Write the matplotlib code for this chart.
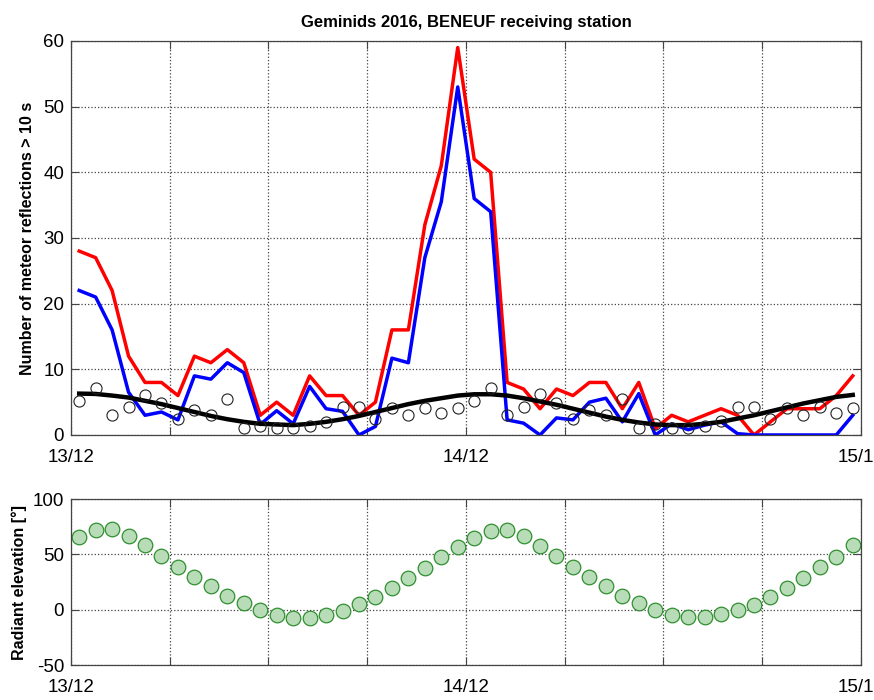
import numpy as np
import matplotlib
matplotlib.use('Agg')
from matplotlib import pyplot as plt

plt.rcParams['font.family'] = ['Liberation Sans', 'DejaVu Sans']
plt.rcParams['axes.unicode_minus'] = False

# hourly values, 13/12 00h .. 14/12 23h (centred on the half hour)
hours = np.arange(48) + 0.5

red = [28, 27, 22, 12, 8, 8, 6, 12, 11, 13,
       11, 3, 5, 3, 9, 6, 6, 3, 5, 16,
       16, 32, 41, 59, 42, 40, 8, 7, 4, 7,
       6, 8, 8, 4, 8, 1, 3, 2, 3, 4,
       3, 0, 2, 4, 4, 4, 6, 9]

blue = [22, 21, 16, 6.5, 3, 3.5, 2.3, 9, 8.5, 11,
        9.5, 1.6, 3.7, 1.7, 7.4, 4, 3.6, 0, 1.3, 11.7,
        11, 27, 35.5, 53, 36, 34, 2.3, 1.8, 0, 2.6,
        2.3, 5, 5.6, 2, 6.3, 0, 1.7, 0.8, 1.5, 2,
        0.2, 0, 0, 0, 0, 0, 0, 3]

background = [6.3, 6.25, 6.0, 5.7, 5.2, 4.7, 4.1, 3.5, 2.9, 2.4,
              2.0, 1.7, 1.6, 1.5, 1.7, 2.0, 2.4, 2.9, 3.5, 4.1,
              4.7, 5.2, 5.6, 6.0, 6.2, 6.2, 6.0, 5.6, 5.1, 4.6,
              4.0, 3.4, 2.8, 2.3, 1.9, 1.6, 1.5, 1.5, 1.7, 2.0,
              2.5, 3.0, 3.6, 4.2, 4.8, 5.3, 5.8, 6.1]

circles = [5.1, 7.2, 3.0, 4.2, 6.1, 4.9, 2.4, 3.8, 3.1, 5.5, 1.0, 1.4,
           1.0, 1.0, 1.4, 2.0, 4.2, 4.2, 2.5, 4.1, 3.1, 4.1, 3.4, 4.1,
           5.1, 7.1, 3.0, 4.2, 6.2, 4.9, 2.5, 3.8, 3.1, 5.5, 1.0,
           1.6, 1.0, 1.0, 1.3, 2.1, 4.2, 4.2, 2.5, 4.1, 3.1, 4.2, 3.4, 4.1]

elevation = [65.4, 71.7, 72.6, 66.9, 58.1, 48.8, 38.9, 29.8, 21.1, 12.7, 5.7, -0.3,
             -5.1, -7.8, -7.8, -5.1, -0.9, 4.8, 11.7, 19.9, 28.3, 37.4, 47.6, 56.9,
             64.5, 71.1, 72.3, 66.9, 57.5, 48.5, 38.9, 29.8, 21.1, 12.5, 5.7, -0.5,
             -5.1, -7.0, -7.0, -4.0, -0.3, 4.5, 11.7, 19.7, 28.9, 38.6, 48.0, 58.1]

xtick_pos = np.arange(0, 49, 6)
xtick_lab = ['13/12', '', '', '', '14/12', '', '', '', '15/12']

fig = plt.figure(figsize=(8.74, 7.0), dpi=100)
ax1 = fig.add_axes([0.0812, 0.3786, 0.9039, 0.5629])
ax2 = fig.add_axes([0.0812, 0.05, 0.9039, 0.2371])


def style(ax):
    ax.set_xlim(0, 48)
    ax.set_xticks(xtick_pos)
    ax.set_xticklabels(xtick_lab)
    ax.grid(True, linestyle=':', color='#444444', linewidth=0.9)
    ax.tick_params(direction='in', top=True, right=True, length=5.5,
                   width=0.8, color='#444444', labelsize=13.5)
    ax.tick_params(axis='x', pad=10)
    ax.tick_params(axis='y', pad=5)
    for s in ax.spines.values():
        s.set_color('#444444')
        s.set_linewidth(0.9)


ax1.plot(hours, red, color='#ff0000', lw=2.5)
ax1.plot(hours, blue, color='#0000ff', lw=2.5)
ax1.plot(hours, background, color='black', lw=3.2)
ax1.plot(hours, circles, 'o', mfc='none', mec='#222222', mew=0.8, ms=8)
ax1.set_ylim(0, 60)
ax1.set_yticks(np.arange(0, 61, 10))
style(ax1)
ax1.set_ylabel('Number of meteor reflections > 10 s', fontsize=11.5,
               fontweight='bold', labelpad=6)
ax1.set_title('Geminids 2016, BENEUF receiving station', fontsize=12,
              fontweight='bold', pad=10)

ax2.plot(hours, elevation, 'o', mfc='#b8dcb8', mec='#2f8f2f', mew=0.9, ms=10.5)
ax2.set_ylim(-50, 100)
ax2.set_yticks([-50, 0, 50, 100])
style(ax2)
ax2.set_ylabel('Radiant elevation [°]', fontsize=11.5, fontweight='bold',
               labelpad=4)

fig.savefig('out.png', dpi=100)
